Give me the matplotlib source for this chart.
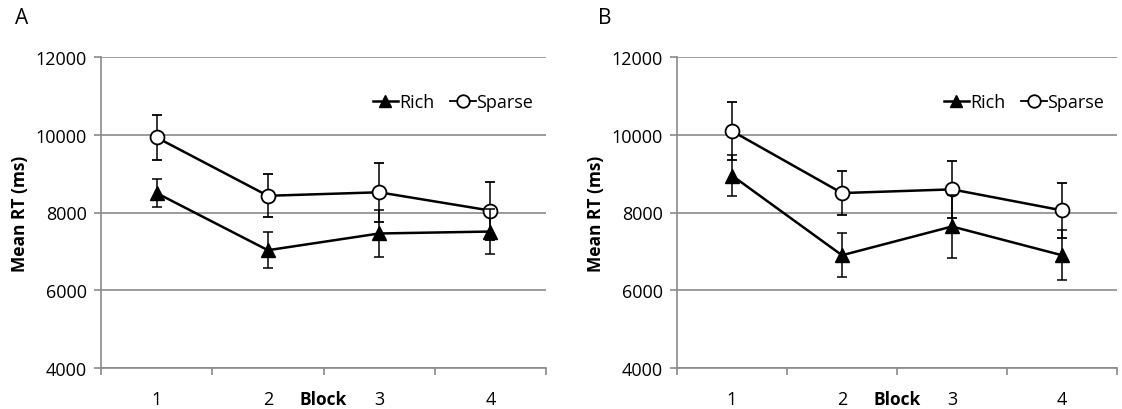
import matplotlib
matplotlib.use("Agg")
import matplotlib.pyplot as plt
from matplotlib.lines import Line2D
import numpy as np

blocks = ["1", "2", "3", "4"]
yticks = [4000, 6000, 8000, 10000, 12000]

rich_a = [8500, 7030, 7460, 7510]
rich_a_err = [370, 460, 600, 590]
sparse_a = [9930, 8430, 8520, 8050]
sparse_a_err = [590, 550, 760, 745]

rich_b = [8950, 6900, 7640, 6900]
rich_b_err = [530, 566, 813, 640]
sparse_b = [10095, 8500, 8595, 8055]
sparse_b_err = [745, 555, 738, 704]

plt.rcParams['font.family'] = ['Open Sans', 'DejaVu Sans']

fig = plt.figure(figsize=(11.22, 4.10), dpi=100)
W, H = 1122, 410
gray = '#8a8a8a'

panels = [
    ("A", 101, 546, rich_a, rich_a_err, sparse_a, sparse_a_err, 15),
    ("B", 677, 1117, rich_b, rich_b_err, sparse_b, sparse_b_err, 598),
]

for letter, x0, x1, rich, rerr, sparse, serr, lx in panels:
    ax = fig.add_axes([x0 / W, 1 - 369 / H, (x1 - x0) / W, (369 - 58) / H])
    x = np.arange(1, len(blocks) + 1)
    ax.errorbar(x, sparse, yerr=serr, color='black', lw=1.8, marker='o',
                markersize=10, markerfacecolor='white', markeredgecolor='black',
                markeredgewidth=1.3, ecolor='black', elinewidth=1.1, capsize=3.5,
                capthick=1.1, zorder=3)
    ax.errorbar(x, rich, yerr=rerr, color='black', lw=1.8, marker='^',
                markersize=10, markerfacecolor='black', markeredgecolor='black',
                ecolor='black', elinewidth=1.1, capsize=3.5, capthick=1.1,
                zorder=4)
    ax.set_xlim(0.5, 4.5)
    ax.set_ylim(4000, 12000)
    ax.set_yticks(yticks)
    ax.set_yticklabels([str(v) for v in yticks], fontsize=13)
    ax.yaxis.grid(True, color=gray, lw=1.2)
    ax.set_axisbelow(True)
    ax.set_xticks(np.arange(0.5, 4.6, 1.0))
    ax.set_xticklabels([])
    ax.set_xticks(x, minor=True)
    ax.set_xticklabels(blocks, minor=True, fontsize=13)
    ax.tick_params(axis='x', which='minor', length=0, pad=16)
    ax.tick_params(axis='x', which='major', length=5, color=gray, width=1.2)
    ax.tick_params(axis='y', length=5, color=gray, width=1.2, pad=5)
    for s in ['top', 'right']:
        ax.spines[s].set_visible(False)
    for s in ['left', 'bottom']:
        ax.spines[s].set_color(gray)
        ax.spines[s].set_linewidth(1.2)
    ax.set_ylabel('Mean RT (ms)', fontsize=12.5, fontweight='bold', labelpad=5)
    ax.text(2.5, -0.1, 'Block', transform=ax.get_xaxis_transform(),
            ha='center', va='center', fontsize=12.5, fontweight='bold')
    handles = [
        Line2D([], [], color='black', lw=1.8, marker='^', markersize=9,
               markerfacecolor='black'),
        Line2D([], [], color='black', lw=1.3, marker='o', markersize=9,
               markerfacecolor='white', markeredgewidth=1.3),
    ]
    ax.legend(handles, ['Rich', 'Sparse'], loc='center right', ncol=2,
              frameon=False, fontsize=13, handlelength=1.4, handletextpad=0.05,
              columnspacing=0.9, bbox_to_anchor=(1.0, (369 - 103) / 311),
              borderaxespad=0.3)
    fig.text(lx / W, 1 - 18 / H, letter, fontsize=15, ha='left', va='center')

fig.savefig('out.png', dpi=100)
